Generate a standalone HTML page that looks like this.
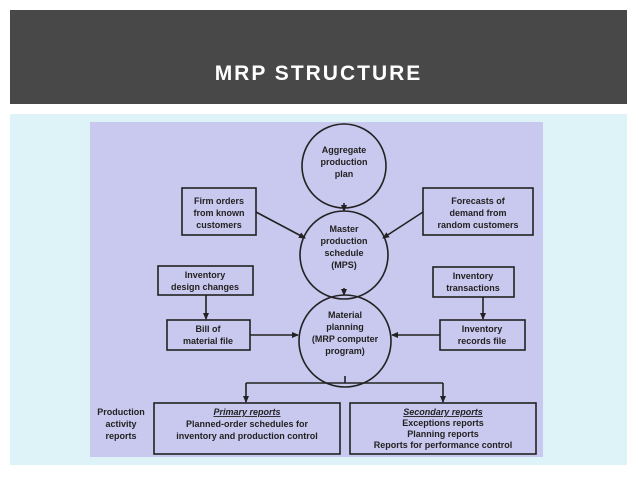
<!DOCTYPE html>
<html><head><style>
body{margin:0;width:638px;height:479px;background:#fff;position:relative;overflow:hidden;font-family:"Liberation Sans",sans-serif}
.hdr{position:absolute;left:10px;top:10px;width:617px;height:94px;background:#484848}
.hdr div{position:absolute;left:0;right:0;top:53px;text-align:center;color:#fff;font-size:21px;font-weight:bold;letter-spacing:2px;line-height:22px}
.panel{position:absolute;left:10px;top:114px;width:617px;height:351px;background:#ddf3f8}
</style></head><body>
<div class="hdr"><div>MRP STRUCTURE</div></div>
<div class="panel"></div>
<svg width="638" height="479" style="position:absolute;left:0;top:0" font-family="Liberation Sans, sans-serif" font-weight="bold" font-size="9" fill="#222">
<defs><marker id="a" markerUnits="userSpaceOnUse" markerWidth="7" markerHeight="7" refX="6" refY="3.5" orient="auto"><path d="M0,0.5L7,3.5L0,6.5z" fill="#222"/></marker></defs>
<rect x="90" y="122" width="453" height="335" fill="#c9c8ee"/>
<g stroke="#222" stroke-width="1.6" fill="none">
<circle cx="344" cy="166" r="42"/>
<circle cx="344" cy="255" r="44"/>
<circle cx="345" cy="341" r="46"/>
<rect x="182" y="188" width="74" height="47"/>
<rect x="423" y="188" width="110" height="47"/>
<rect x="158" y="266" width="95" height="29"/>
<rect x="433" y="267" width="81" height="30"/>
<rect x="167" y="320" width="83" height="30"/>
<rect x="440" y="320" width="85" height="30"/>
<rect x="154" y="403" width="186" height="51"/>
<rect x="350" y="403" width="186" height="51"/>
<g marker-end="url(#a)">
<line x1="344" y1="203" x2="344" y2="211"/>
<line x1="256" y1="212" x2="305" y2="238"/>
<line x1="423" y1="212" x2="383" y2="238"/>
<line x1="344" y1="288" x2="344" y2="295"/>
<line x1="206" y1="295" x2="206" y2="319"/>
<line x1="483" y1="297" x2="483" y2="319"/>
<line x1="250" y1="335" x2="298" y2="335"/>
<line x1="440" y1="335" x2="392" y2="335"/>
<line x1="246" y1="383" x2="246" y2="402"/>
<line x1="443" y1="383" x2="443" y2="402"/>
</g>
<line x1="345" y1="376" x2="345" y2="383"/>
<line x1="246" y1="383" x2="443" y2="383"/>
</g>
<g text-anchor="middle">
<text x="344" y="153">Aggregate</text><text x="344" y="165">production</text><text x="344" y="177">plan</text>
<text x="219" y="204">Firm orders</text><text x="219" y="216">from known</text><text x="219" y="228">customers</text>
<text x="478" y="204">Forecasts of</text><text x="478" y="216">demand from</text><text x="478" y="228">random customers</text>
<text x="344" y="232">Master</text><text x="344" y="244">production</text><text x="344" y="256">schedule</text><text x="344" y="268">(MPS)</text>
<text x="205" y="278">Inventory</text><text x="205" y="290">design changes</text>
<text x="473" y="279">Inventory</text><text x="473" y="291">transactions</text>
<text x="345" y="318">Material</text><text x="345" y="330">planning</text><text x="345" y="342">(MRP computer</text><text x="345" y="354">program)</text>
<text x="208" y="332">Bill of</text><text x="208" y="344">material file</text>
<text x="482" y="332">Inventory</text><text x="482" y="344">records file</text>
<text x="121" y="415">Production</text><text x="121" y="427">activity</text><text x="121" y="439">reports</text>
<text x="247" y="415" font-style="italic" text-decoration="underline">Primary reports</text>
<text x="247" y="427">Planned-order schedules for</text><text x="247" y="439">inventory and production control</text>
<text x="443" y="415" font-style="italic" text-decoration="underline">Secondary reports</text>
<text x="443" y="426">Exceptions reports</text><text x="443" y="437">Planning reports</text><text x="443" y="448">Reports for performance control</text>
</g>
</svg>
</body></html>
